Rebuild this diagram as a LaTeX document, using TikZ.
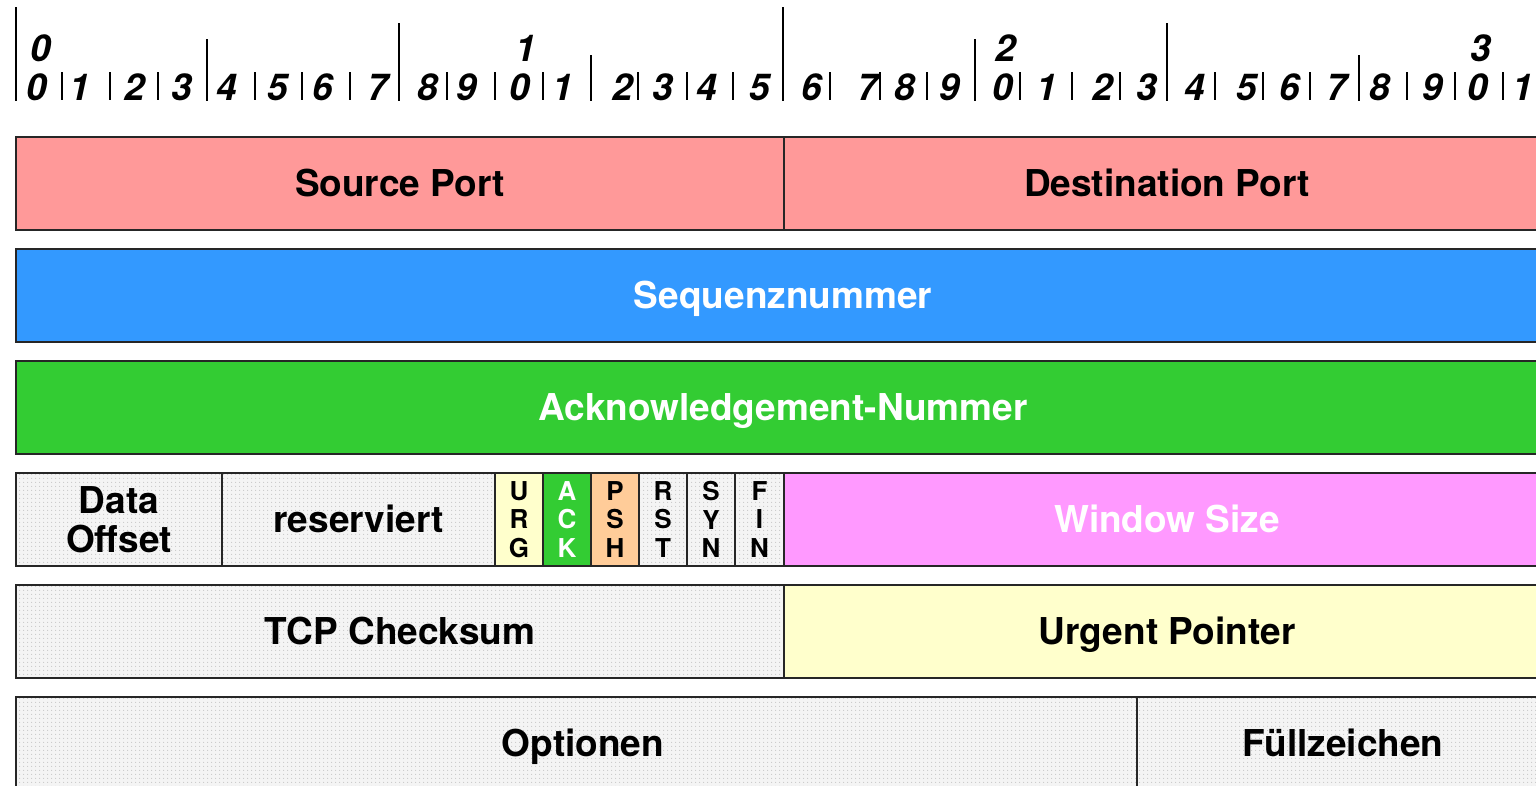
\documentclass[tikz,border=0pt]{standalone}
\usepackage{fontspec}
\setmainfont{TeX Gyre Heros}
\usetikzlibrary{patterns.meta}
\definecolor{portpink}{HTML}{FF9999}
\definecolor{seqblue}{HTML}{3399FF}
\definecolor{ackgreen}{HTML}{33CC33}
\definecolor{winmagenta}{HTML}{FF99FF}
\definecolor{urgyellow}{HTML}{FFFFCC}
\definecolor{pshorange}{HTML}{FFCC99}
\definecolor{dotbg}{HTML}{F4F4F4}
\definecolor{dotfg}{HTML}{C8C8C8}
\begin{document}
\begin{tikzpicture}[x=1pt,y=-1pt,
  field/.style={draw=black!85, line width=2.4pt},
  dotfield/.style={field, preaction={fill=dotbg}, pattern={Dots[distance=4pt,radius=0.75pt]}, pattern color=dotfg},
  lbl/.style={font=\fontsize{37}{38}\selectfont\bfseries, inner sep=0pt, text height=26.5pt, text depth=0pt},
  wlbl/.style={lbl, text=white},
  flag/.style={font=\fontsize{26}{28.5}\selectfont\bfseries, align=center, inner sep=0pt},
  digit/.style={font=\fontsize{37}{38}\selectfont\bfseries\itshape, inner sep=0pt, text height=26.5pt, text depth=0pt},
  tick/.style={line width=2.4pt, black}]
\clip (0,0) rectangle (1536,785);
\fill[white] (0,0) rectangle (1536,785);

% ruler
\foreach \x/\t in {16/7,207/39,399/23,591/55,783/7,975/39,1167/23,1359/55}
  \draw[tick] (\x,\t) -- (\x,101);
\foreach \x in {62,110,158,255,302,350,447,495,543,638,687,733,830,880,927,1020,1072,1120,1215,1263,1310,1407,1455,1503}
  \draw[tick, line width=2.8pt] (\x,72) -- (\x,100);
\foreach \x/\d [count=\i] in {37/0,80/1,135/2,182/3,227/4,278/5,323/6,378/7,428/8,467/9,520/0,563/1,623/2,663/3,707/4,760/5,812/6,868/7,905/8,950/9,1003/0,1047/1,1103/2,1147/3,1195/4,1247/5,1290/6,1337/7,1380/8,1433/9,1478/0,1523/1}
  \node[digit] (b\i) at (\x,87) {\d};
\node[digit] (t0) at (41,48) {0};
\node[digit] (t1) at (526,48) {1};
\node[digit] (t2) at (1006,48) {2};
\node[digit] (t3) at (1481,48) {3};

% row 1
\draw[field, fill=portpink] (16,137) rectangle (784,230);
\draw[field, fill=portpink] (784,137) rectangle (1560,230);
\node[lbl] (src) at (400,183.5) {Source Port};
\node[lbl] (dst) at (1167,183.5) {Destination Port};

% row 2
\draw[field, fill=seqblue] (16,249) rectangle (1560,342);
\node[wlbl] (seq) at (783,295.5) {Sequenznummer};

% row 3
\draw[field, fill=ackgreen] (16,361) rectangle (1560,454);
\node[wlbl] (ackn) at (783,407.5) {Acknowledgement-Nummer};

% row 4
\draw[dotfield] (16,473) rectangle (222,566);
\draw[dotfield] (222,473) rectangle (495,566);
\draw[field, fill=urgyellow] (495,473) rectangle (543,566);
\draw[field, fill=ackgreen] (543,473) rectangle (591,566);
\draw[field, fill=pshorange] (591,473) rectangle (639,566);
\draw[dotfield] (639,473) rectangle (687,566);
\draw[dotfield] (687,473) rectangle (735,566);
\draw[dotfield] (735,473) rectangle (784,566);
\draw[field, fill=winmagenta] (784,473) rectangle (1560,566);
\node[align=center, inner sep=0pt, font=\fontsize{37}{39}\selectfont\bfseries] (doff) at (119,519.5) {Data\\Offset};
\node[lbl] (res) at (358.5,519.5) {reserviert};
\node[flag] (urg) at (519,519.5) {U\\R\\G};
\node[flag, text=white] (ack) at (567,519.5) {A\\C\\K};
\node[flag] (psh) at (615,519.5) {P\\S\\H};
\node[flag] (rst) at (663,519.5) {R\\S\\T};
\node[flag] (syn) at (711,519.5) {S\\Y\\N};
\node[flag] (fin) at (759.5,519.5) {F\\I\\N};
\node[wlbl] (win) at (1167,519.5) {Window Size};

% row 5
\draw[dotfield] (16,585) rectangle (784,678);
\draw[field, fill=urgyellow] (784,585) rectangle (1560,678);
\node[lbl] (chk) at (400,631.5) {TCP Checksum};
\node[lbl] (urgp) at (1167,631.5) {Urgent Pointer};

% row 6
\draw[dotfield] (16,697) rectangle (1137,800);
\draw[dotfield] (1137,697) rectangle (1560,800);
\node[lbl] (opt) at (583,743.5) {Optionen};
\node[lbl] (pad) at (1343,743.5) {Füllzeichen};
\end{tikzpicture}
\end{document}
